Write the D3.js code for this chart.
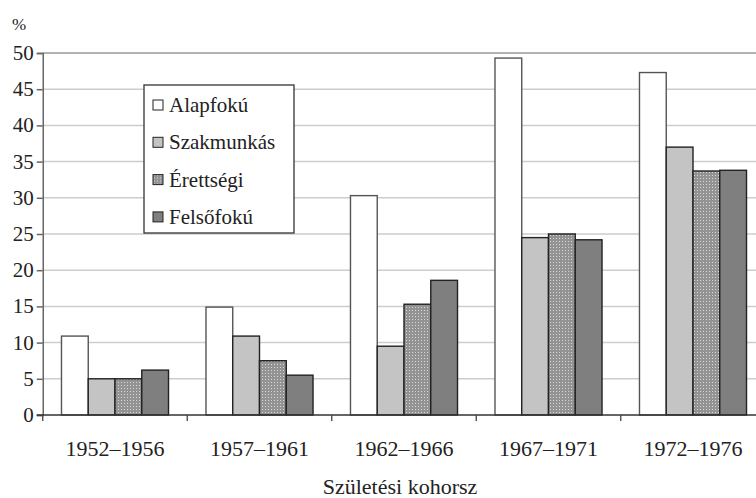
<!DOCTYPE html>
<html>
<head>
<meta charset="utf-8">
<script src="https://d3js.org/d3.v7.min.js"></script>
<style>
  body { margin: 0; background: #fff; }
</style>
</head>
<body>
<svg id="chart" width="756" height="498"></svg>
<script>
// data
var cohorts = ["1952\u20131956", "1957\u20131961", "1962\u20131966", "1967\u20131971", "1972\u20131976"];
var seriesNames = ["Alapfokú", "Szakmunkás", "Érettségi", "Felsőfokú"];
var alapfoku   = [10.9, 14.9, 30.3, 49.3, 47.3];
var szakmunkas = [5.0, 10.9, 9.5, 24.5, 37.0];
var erettsegi  = [5.0, 7.5, 15.3, 25.0, 33.7];
var felsofoku  = [6.2, 5.5, 18.6, 24.2, 33.8];
var yTicks = [0, 5, 10, 15, 20, 25, 30, 35, 40, 45, 50];

var seriesValues = [alapfoku, szakmunkas, erettsegi, felsofoku];
var fills = ["#ffffff", "#c4c4c4", "url(#dots)", "#7f7f7f"];
var strokes = ["#555", "#222", "#222", "#222"];

var W = 756, H = 498;
var margin = {top: 53, left: 42.75, bottom: 83};
var FONT = "Liberation Serif";
var S = 0.8; // text drawn large then scaled down

var svg = d3.select("#chart");

// dotted fill for Érettségi
var pat = svg.append("defs").append("pattern")
    .attr("id", "dots").attr("width", 3).attr("height", 3)
    .attr("patternUnits", "userSpaceOnUse");
pat.append("rect").attr("width", 3).attr("height", 3).attr("fill", "#939393");
pat.append("rect").attr("x", 1).attr("y", 1).attr("width", 1).attr("height", 1).attr("fill", "#d8d8d8");

var x = d3.scaleBand()
    .domain(cohorts)
    .range([margin.left, margin.left + 722.5])
    .padding(0);

var inner = d3.scaleBand()
    .domain(seriesNames)
    .range([0, x.bandwidth()])
    .paddingOuter(0.7)
    .paddingInner(0);

var y = d3.scaleLinear()
    .domain([0, 50])
    .range([H - margin.bottom, margin.top]);

// text helper: places text at (px,py) in chart coords
function label(parent, px, py, str, size, anchor) {
  return parent.append("g")
      .attr("transform", "translate(" + px + "," + py + ") scale(" + S + ")")
    .append("text")
      .attr("font-family", FONT)
      .attr("font-size", size / S)
      .attr("fill", "#222")
      .attr("text-anchor", anchor || "start")
      .text(str);
}

// gridlines
svg.append("g").selectAll("line")
    .data(yTicks.filter(function(d) { return d > 0; }))
    .enter().append("line")
    .attr("x1", margin.left).attr("x2", W)
    .attr("y1", function(d) { return y(d); })
    .attr("y2", function(d) { return y(d); })
    .attr("stroke", function(d) { return d === 50 ? "#9a9a9a" : "#cdcdcd"; })
    .attr("stroke-width", 1.5);

// bars
seriesNames.forEach(function(name, si) {
  svg.append("g").selectAll("rect")
    .data(seriesValues[si])
    .enter().append("rect")
    .attr("x", function(d, i) { return x(cohorts[i]) + inner(name); })
    .attr("y", function(d) { return y(d); })
    .attr("width", inner.bandwidth())
    .attr("height", function(d) { return y(0) - y(d); })
    .attr("fill", fills[si])
    .attr("stroke", strokes[si])
    .attr("stroke-width", 1.4);
});

// y axis (line and ticks from d3, labels drawn separately)
var yAxis = svg.append("g")
    .attr("transform", "translate(" + margin.left + ",0)")
    .call(d3.axisLeft(y).tickValues(yTicks).tickSize(6).tickFormat(""));
yAxis.select(".domain").attr("stroke", "#666").attr("stroke-width", 1.5);
yAxis.selectAll(".tick line").attr("stroke", "#666").attr("stroke-width", 1.5);
var yl = svg.append("g");
yTicks.forEach(function(t) {
  label(yl, margin.left - 9, y(t) + 7, String(t), 21, "end");
});

// x axis with ticks at category boundaries
var xg = svg.append("g").attr("transform", "translate(0," + y(0) + ")");
xg.append("line").attr("x1", margin.left - 6).attr("x2", W)
    .attr("stroke", "#333").attr("stroke-width", 1.6);
xg.selectAll(".bt").data(cohorts).enter().append("line")
    .attr("x1", function(d) { return x(d); }).attr("x2", function(d) { return x(d); })
    .attr("y1", 0).attr("y2", 6)
    .attr("stroke", "#444").attr("stroke-width", 1.3);
cohorts.forEach(function(c) {
  label(xg, x(c) + x.bandwidth() / 2, 41, c, 22, "middle");
});

label(svg, 400, 494, "Születési kohorsz", 22, "middle");
label(svg, 12, 30, "%", 17);

// legend
var lg = svg.append("g").attr("transform", "translate(144,85)");
lg.append("rect").attr("width", 150).attr("height", 148)
    .attr("fill", "#fff").attr("stroke", "#333").attr("stroke-width", 1.3);
seriesNames.forEach(function(name, i) {
  var row = lg.append("g").attr("transform", "translate(0," + (20 + i * 37.3) + ")");
  row.append("rect").attr("x", 9).attr("y", -5).attr("width", 10).attr("height", 10)
      .attr("fill", fills[i]).attr("stroke", "#222").attr("stroke-width", 1);
  label(row, 25, 7, name, 21);
});
</script>
</body>
</html>
